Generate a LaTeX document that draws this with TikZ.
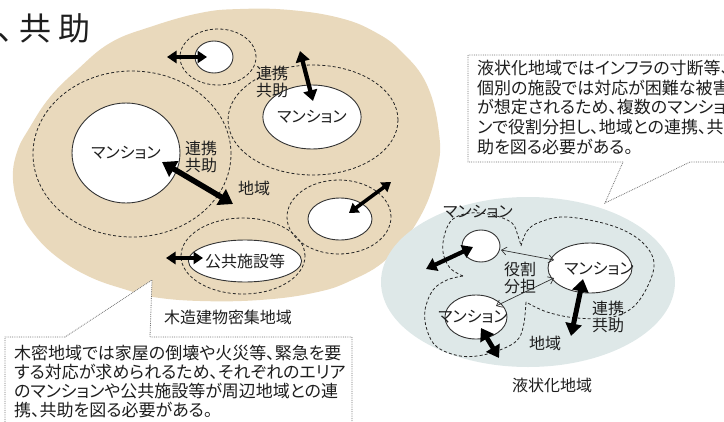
\documentclass[tikz,border=0pt]{standalone}
\usepackage{fontspec}
\setmainfont{Noto Sans CJK JP}[RawFeature=+palt]
\newfontfamily\jpfull{Noto Sans CJK JP}
\usetikzlibrary{arrows.meta,shapes.geometric}
\definecolor{tanfill}{HTML}{E9D9BC}
\definecolor{bluefill}{HTML}{DEE8E8}
\definecolor{inkc}{HTML}{1E1E1E}
\begin{document}
\begin{tikzpicture}[x=1pt,y=-1pt,
  lbl/.style={text=inkc,inner sep=0pt,align=center,font=\fontsize{16}{16.5}\selectfont},
  ttl/.style={text=inkc,inner sep=0pt,font=\jpfull\fontsize{32}{32}\selectfont},
  dashring/.style={draw=black!85,dash pattern=on 3pt off 2.2pt,line width=0.8pt},
  wnode/.style={ellipse,draw=black!80,fill=white,line width=0.9pt,inner sep=0pt,text=inkc,font=\fontsize{16}{16.5}\selectfont},
  fat/.style={line width=#1,draw=black,<->,>={Triangle[length=0pt 2.5,width=0pt 3.2]}},
  thinarr/.style={line width=0.7pt,draw=black!80,<->,>={Straight Barb[length=5pt,width=8pt]}},
  callout/.style={fill=white,draw=black!55,densely dotted,line width=0.8pt},
  boxtext/.style={text=inkc,inner sep=0pt,align=left,anchor=north west}
]
\useasboundingbox (0,0) rectangle (724,421);
\clip (0,0) rectangle (724,421);

% title fragment
\node[ttl,anchor=west] (ttlnode) at (-3,28) {、\kern-10pt 共\kern7pt 助};

% tan region
\fill[tanfill] plot[smooth cycle,tension=0.7] coordinates {
 (240,9) (200,13) (150,27) (110,43) (77,70) (50,97) (30,127) (17,152) (13,180)
 (20,210) (33,233) (57,257) (90,277) (127,290) (153,297) (200,301) (260,300)
 (313,293) (350,281) (388,258) (420,217) (437,170) (439,133) (427,85) (402,52)
 (375,32) (340,18) (290,10)};

% blue region
\fill[bluefill] (528,282) ellipse [x radius=147pt,y radius=85pt];

% dashed rings (tan region)
\draw[dashring] (132,154) ellipse [x radius=99pt,y radius=83pt];
\draw[dashring] (218,57) ellipse [x radius=38pt,y radius=28pt];
\draw[dashring] (313,120) ellipse [x radius=85pt,y radius=55pt];
\draw[dashring] (339,217) ellipse [x radius=52pt,y radius=37pt];
\draw[dashring] (243,256) ellipse [x radius=62pt,y radius=38pt];

% dashed lobes (blue region)
\draw[dashring] plot[smooth,tension=0.6] coordinates {(463,276) (450,268) (443,252) (445,233) (453,219) (470,213) (493,215) (512,223) (518,236) (521,246)};
\draw[dashring] plot[smooth,tension=0.6] coordinates {(521,246) (527,231) (540,222) (567,217) (613,226) (643,243) (654,267) (638,302) (613,317) (577,318) (547,312) (526,302)};
\draw[dashring] plot[smooth,tension=0.6] coordinates {(526,302) (524,323) (519,338) (507,347) (483,355) (460,356) (437,347) (427,330) (425,310) (433,290) (447,280) (463,276)};

% white ellipses
\node[wnode,minimum width=108pt,minimum height=100pt] (mL) at (126,153) {マンション};
\node[wnode,minimum width=38pt,minimum height=32pt] (sT) at (214,57) {};
\node[wnode,minimum width=86pt,minimum height=64pt] (mR) at (312,117) {マンション};
\node[wnode,minimum width=64pt,minimum height=42pt] (sB) at (340,219) {};
\node[wnode,minimum width=90pt,minimum height=42pt] (pF) at (245,261) {公共施設等};

\node[wnode,minimum width=38pt,minimum height=32pt] (bS) at (481,246) {};
\node[wnode,minimum width=84pt,minimum height=50pt] (bM) at (590,268) {};
\node[wnode,minimum width=62pt,minimum height=44pt] (bL) at (476,317) {};
\node[lbl] (bMt) at (599,269) {マンション};
\node[lbl] (bLt) at (473,317) {マンション};

% arrow end coordinates
\coordinate (aT1) at (167,57);   \coordinate (aT2) at (207,57);
\coordinate (aR1) at (300,51);   \coordinate (aR2) at (313,101);
\coordinate (aL1) at (162,162);  \coordinate (aL2) at (233,204);
\coordinate (aB1) at (349,213);  \coordinate (aB2) at (391,182);
\coordinate (aP1) at (166,258);  \coordinate (aP2) at (203,258);
\coordinate (bA1) at (473,247);  \coordinate (bA2) at (426,269);
\coordinate (bB1) at (583,279);  \coordinate (bB2) at (571,336);
\coordinate (bC1) at (481,328);  \coordinate (bC2) at (499,358);
\coordinate (bT1) at (501,250);  \coordinate (bT2) at (554,260);
\coordinate (bU1) at (496,306);  \coordinate (bU2) at (554,278);

% thick arrows
\draw[fat=3.8pt] (aT1) -- (aT2);
\draw[fat=4.3pt] (aR1) -- (aR2);
\draw[fat=5.5pt] (aL1) -- (aL2);
\draw[fat=3.6pt] (aB1) -- (aB2);
\draw[fat=3.8pt] (aP1) -- (aP2);
\draw[fat=4.2pt] (bA1) -- (bA2);
\draw[fat=5pt] (bB1) -- (bB2);
\draw[fat=4.8pt] (bC1) -- (bC2);
% thin arrows
\draw[thinarr] (bT1) -- (bT2);
\draw[thinarr] (bU1) -- (bU2);

% labels
\node[lbl] (k1) at (201,157) {連携\\共助};
\node[lbl] (k2) at (272,82) {連携\\共助};
\node[lbl] (c1) at (254,188) {地域};
\node[lbl] (n1) at (228,317) {木造建物密集地域};
\node[lbl] (bt) at (478,212) {マンション};
\node[lbl] (yk) at (520,278) {役割\\分担};
\node[lbl] (k3) at (608,317) {連携\\共助};
\node[lbl] (c2) at (545,343) {地域};
\node[lbl] (n2) at (552,385) {液状化地域};

% callouts
\draw[callout] (65,337) -- (5,337) -- (5,440) -- (352,440) -- (352,337) -- (150,337) -- (152,280) -- cycle;
\node[boxtext,font=\fontsize{17}{19}\selectfont] (tx1) at (14,345) {木密地域では家屋の倒壊や火災等、緊急を要\\する対応が求められるため、それぞれのエリア\\のマンションや公共施設等が周辺地域との連\\携、共助を図る必要がある。};

\draw[callout] (623,162) -- (468,162) -- (468,55) -- (740,55) -- (740,162) -- (690,162) -- (605,203) -- cycle;
\node[boxtext,font=\fontsize{17}{19.7}\selectfont] (tx2) at (477,60) {液状化地域ではインフラの寸断等、\\個別の施設では対応が困難な被害\\が想定されるため、複数のマンショ\\ンで役割分担し、地域との連携、共\\助を図る必要がある。};
\end{tikzpicture}
\end{document}
